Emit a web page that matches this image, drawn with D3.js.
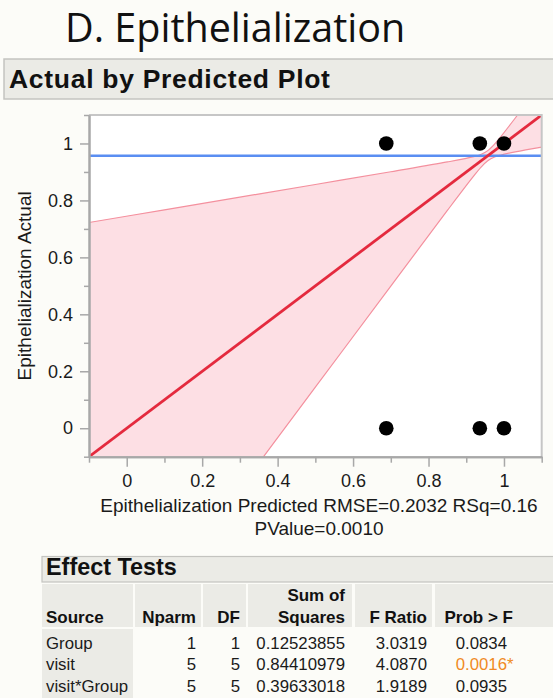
<!DOCTYPE html>
<html><head><meta charset="utf-8">
<script src="https://cdn.jsdelivr.net/npm/d3@7"></script>
<style>
html,body{margin:0;padding:0;background:#fcfcf8;}
svg{display:block;}
text{font-family:"Liberation Sans",Arial,Helvetica,sans-serif;}
</style></head>
<body>
<svg id="c" width="553" height="698"></svg>
<script>
// ---- data ----
const predicted = [0.688, 0.936, 1.0, 0.688, 0.936, 1.0];
const actual    = [1, 1, 1, 0, 0, 0];
const meanActual = 0.957;
const fitX = [-0.1, 1.1];
const fitY = [-0.1, 1.1];
const bandX     = [-0.1, 0.1, 0.3, 0.5, 0.7, 0.85, 0.92, 0.94, 0.957, 0.975, 0.99, 1.03, 1.1];
const bandLower = [-0.9225, -0.567, -0.2115, 0.144, 0.4993, 0.7649, 0.8861, 0.9178, 0.9391, 0.9523, 0.9587, 0.9705, 0.9873];
const bandUpper = [0.7225, 0.767, 0.8115, 0.856, 0.9007, 0.9351, 0.9539, 0.9623, 0.9749, 0.9977, 1.0213, 1.0895, 1.2127];
const majorTicks = [0, 0.2, 0.4, 0.6, 0.8, 1];
const minorTicks = [-0.1, 0.1, 0.3, 0.5, 0.7, 0.9, 1.1];
const tickLabels = ["0", "0.2", "0.4", "0.6", "0.8", "1"];

const sources = ["Group", "visit", "visit*Group"];
const nparm   = ["1", "5", "5"];
const dfs     = ["1", "5", "5"];
const sumSq   = ["0.12523855", "0.84410979", "0.39633018"];
const fRatio  = ["3.0319", "4.0870", "1.9189"];
const probF   = ["0.0834", "0.0016", "0.0935"];
const signif  = [false, true, false];

// ---- drawing ----
const svg = d3.select("#c");
const L = 89, R = 541.7, T = 115, B = 456.7;
const x = d3.scaleLinear().domain([-0.1, 1.1]).range([L, R]);
const y = d3.scaleLinear().domain([-0.1, 1.1]).range([B, T]);

// title
svg.append("text").attr("x", 65).attr("y", 42)
  .style("font-family", "'Open Sans','DejaVu Sans',sans-serif")
  .attr("font-size", 39.5).attr("fill", "#111").text("D. Epithelialization");

// header bar
svg.append("rect").attr("x", 4).attr("y", 59).attr("width", 560).attr("height", 40)
  .attr("fill", "#ebebe6").attr("stroke", "#c4c4c0").attr("stroke-width", 1.5);
svg.append("text").attr("x", 9).attr("y", 88).attr("font-size", 26.5)
  .attr("letter-spacing", 0.7)
  .attr("font-weight", "bold").attr("fill", "#111").text("Actual by Predicted Plot");

// plot background
svg.append("rect").attr("x", L).attr("y", T).attr("width", R - L).attr("height", B - T)
  .attr("fill", "#fff");
svg.append("defs").append("clipPath").attr("id", "clip")
  .append("rect").attr("x", L).attr("y", T).attr("width", R - L).attr("height", B - T);

const g = svg.append("g").attr("clip-path", "url(#clip)");
const band = bandX.map((v, i) => ({x: v, lo: bandLower[i], hi: bandUpper[i]}));
const area = d3.area().x(d => x(d.x)).y0(d => y(d.lo)).y1(d => y(d.hi)).curve(d3.curveCatmullRom);
g.append("path").datum(band).attr("d", area).attr("fill", "#fddfe4");
const lineLo = d3.line().x(d => x(d.x)).y(d => y(d.lo)).curve(d3.curveCatmullRom);
const lineHi = d3.line().x(d => x(d.x)).y(d => y(d.hi)).curve(d3.curveCatmullRom);
g.append("path").datum(band).attr("d", lineLo).attr("fill", "none").attr("stroke", "#f4909e").attr("stroke-width", 1.2);
g.append("path").datum(band).attr("d", lineHi).attr("fill", "none").attr("stroke", "#f4909e").attr("stroke-width", 1.2);

// mean line
g.append("line").attr("x1", L).attr("x2", R).attr("y1", y(meanActual)).attr("y2", y(meanActual))
  .attr("stroke", "#5a8ef2").attr("stroke-width", 2.5);
// fit line
g.append("line").attr("x1", x(fitX[0])).attr("y1", y(fitY[0])).attr("x2", x(fitX[1])).attr("y2", y(fitY[1]))
  .attr("stroke", "#e42a3e").attr("stroke-width", 2.8);

// points
g.selectAll("circle.pt").data(predicted).join("circle").attr("class", "pt")
  .attr("cx", d => x(d)).attr("cy", (d, i) => y(actual[i])).attr("r", 7.3).attr("fill", "#000");

// frame (top/right)
svg.append("path").attr("d", `M${L},${T}H${R}V${B}`).attr("fill", "none")
  .attr("stroke", "#c6c6c6").attr("stroke-width", 2);

// axes
function styleAxis(sel) {
  sel.select(".domain").attr("stroke", "#a8a8a8").attr("stroke-width", 2);
  sel.selectAll(".tick line").attr("stroke", "#a8a8a8").attr("stroke-width", 1.5);
  sel.selectAll(".tick text").attr("font-size", 18).attr("fill", "#1a1a1a")
    .style("font-family", "'Liberation Sans',Arial,sans-serif");
}
const xMinor = svg.append("g").attr("transform", `translate(0,${B})`)
  .call(d3.axisBottom(x).tickValues(minorTicks).tickSize(6).tickFormat("").tickSizeOuter(0));
styleAxis(xMinor);
const xMajor = svg.append("g").attr("transform", `translate(0,${B})`)
  .call(d3.axisBottom(x).tickValues(majorTicks).tickSize(10).tickPadding(8)
    .tickFormat((d, i) => tickLabels[i]).tickSizeOuter(0));
styleAxis(xMajor);
const yMinor = svg.append("g").attr("transform", `translate(${L},0)`)
  .call(d3.axisLeft(y).tickValues(minorTicks).tickSize(5).tickFormat("").tickSizeOuter(0));
styleAxis(yMinor);
const yMajor = svg.append("g").attr("transform", `translate(${L},0)`)
  .call(d3.axisLeft(y).tickValues(majorTicks).tickSize(9).tickPadding(7)
    .tickFormat((d, i) => tickLabels[i]).tickSizeOuter(0));
styleAxis(yMajor);

// axis titles
svg.append("text").attr("transform", `translate(31,${(T + B) / 2}) rotate(-90)`)
  .attr("text-anchor", "middle").attr("font-size", 19).attr("fill", "#1a1a1a")
  .text("Epithelialization Actual");
svg.append("text").attr("x", 319).attr("y", 512).attr("text-anchor", "middle")
  .attr("font-size", 19).attr("fill", "#1a1a1a")
  .text("Epithelialization Predicted RMSE=0.2032 RSq=0.16");
svg.append("text").attr("x", 319).attr("y", 535).attr("text-anchor", "middle")
  .attr("font-size", 19).attr("fill", "#1a1a1a").text("PValue=0.0010");

// ---- Effect Tests table ----
svg.append("rect").attr("x", 42).attr("y", 556.5).attr("width", 520).attr("height", 25.5)
  .attr("fill", "#ebebe6").attr("stroke", "#c4c4c0").attr("stroke-width", 1.2);
svg.append("text").attr("x", 46).attr("y", 575).attr("font-size", 23.4)
  .attr("font-weight", "bold").attr("fill", "#111").text("Effect Tests");

const cols = [
  {x0: 42, x1: 133, head: ["", "Source"], anchor: "start", tx: 46, vals: sources},
  {x0: 135, x1: 201, head: ["", "Nparm"], anchor: "end", tx: 196, vals: nparm},
  {x0: 203, x1: 246, head: ["", "DF"], anchor: "end", tx: 240, vals: dfs},
  {x0: 248, x1: 352, head: ["Sum of", "Squares"], anchor: "end", tx: 345, vals: sumSq},
  {x0: 355, x1: 432, head: ["", "F Ratio"], anchor: "end", tx: 427, vals: fRatio},
  {x0: 435, x1: 560, head: ["", "Prob > F"], anchor: "end", tx: 513, vals: probF}
];
cols.forEach((c, ci) => {
  svg.append("rect").attr("x", c.x0).attr("y", 584).attr("width", c.x1 - c.x0).attr("height", 43)
    .attr("fill", "#ebebe6");
  c.head.forEach((h, hi) => {
    if (!h) return;
    svg.append("text").attr("x", c.tx).attr("y", hi === 0 ? 601 : 623)
      .attr("text-anchor", c.anchor).attr("font-size", 17).attr("font-weight", "bold")
      .attr("fill", "#111").text(h);
  });
});
svg.append("rect").attr("x", 42).attr("y", 629).attr("width", 91).attr("height", 69).attr("fill", "#ebebe6");
const rowY = [648.5, 670.2, 692];
cols.forEach((c, ci) => {
  c.vals.forEach((v, ri) => {
    const t = svg.append("text").attr("y", rowY[ri]).attr("font-size", 16.8).attr("fill", "#1a1a1a");
    if (ci === 5) {
      t.attr("x", 507).attr("text-anchor", "end");
      if (signif[ri]) {
        t.attr("fill", "#f08a24").text(v);
        svg.append("text").attr("x", 507).attr("y", rowY[ri]).attr("font-size", 16.8)
          .attr("fill", "#f08a24").text("*");
      } else t.text(v);
    } else {
      t.attr("x", c.tx).attr("text-anchor", c.anchor).text(v);
    }
  });
});
</script>
</body></html>
